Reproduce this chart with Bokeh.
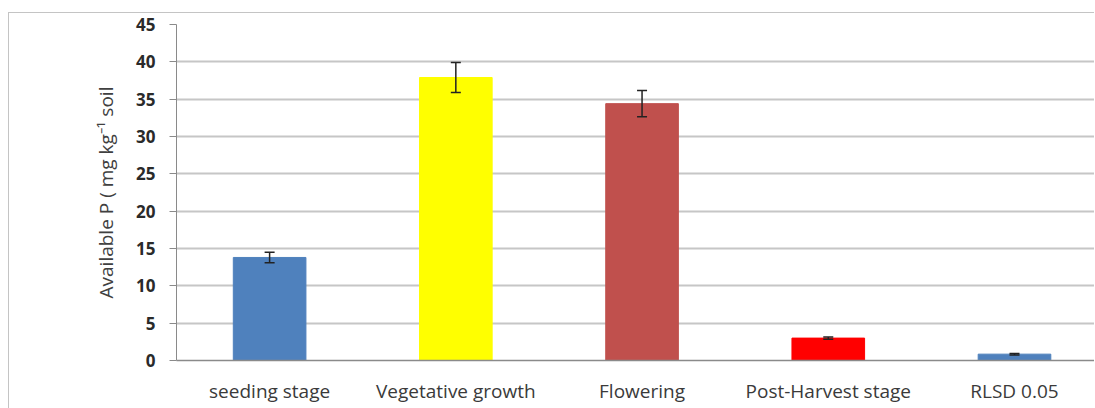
from bokeh.plotting import figure
from bokeh.models import ColumnDataSource, Whisker, FixedTicker, TeeHead, Range1d
from bokeh.embed import file_html
from bokeh.resources import INLINE

categories = ["seeding stage", "Vegetative growth", "Flowering", "Post-Harvest stage", "RLSD 0.05"]
values = [13.8, 37.9, 34.4, 3.0, 0.85]
errors = [0.7, 2.0, 1.75, 0.15, 0.1]
colors = ["#4f81bd", "#ffff00", "#c0504d", "#ff0000", "#4f81bd"]
y_ticks = [0, 5, 10, 15, 20, 25, 30, 35, 40, 45]

xs = list(range(len(categories)))
src = ColumnDataSource(dict(
    x=xs, top=values, color=colors,
    upper=[v + e for v, e in zip(values, errors)],
    lower=[v - e for v, e in zip(values, errors)],
))

p = figure(width=1086, height=396, output_backend="svg", toolbar_location=None,
           x_range=Range1d(-0.5, 4.435), y_range=Range1d(0, 45),
           min_border_left=167, min_border_top=11, min_border_bottom=49, min_border_right=0,
           styles={"border-left": "1px solid #c4c4c4", "border-top": "1px solid #c4c4c4",
                   "margin-top": "12px", "margin-left": "8px"})
p.outline_line_color = None
p.background_fill_color = "white"

p.vbar(x="x", top="top", width=0.39, bottom=0, color="color", source=src)
w = Whisker(base="x", upper="upper", lower="lower", source=src,
            line_color="#222222", line_width=1.5, level="overlay")
w.upper_head = TeeHead(size=10, line_color="#222222", line_width=1.5)
w.lower_head = TeeHead(size=10, line_color="#222222", line_width=1.5)
p.add_layout(w)

p.xgrid.grid_line_color = None
p.ygrid.grid_line_color = "#c6c6c6"
p.ygrid.grid_line_width = 2

p.yaxis.ticker = FixedTicker(ticks=y_ticks)
p.yaxis.minor_tick_line_color = None
p.yaxis.major_tick_out = 7
p.yaxis.major_tick_in = 0
p.yaxis.major_tick_line_color = "#8a8a8a"
p.yaxis.axis_line_color = "#8a8a8a"
p.yaxis.major_label_text_font = "Open Sans"
p.yaxis.major_label_text_font_style = "bold"
p.yaxis.major_label_text_font_size = "17px"
p.yaxis.major_label_text_color = "#2a2a2a"
p.yaxis.major_label_standoff = 14
p.yaxis.axis_label = "Available P ( mg kg\u207b\u00b9 soil"
p.yaxis.axis_label_text_font = "Open Sans"
p.yaxis.axis_label_text_font_style = "normal"
p.yaxis.axis_label_text_font_size = "19px"
p.yaxis.axis_label_text_color = "#404040"
p.yaxis.axis_label_standoff = 14

p.xaxis.ticker = FixedTicker(ticks=xs)
p.xaxis.major_label_overrides = {i: c for i, c in zip(xs, categories)}
p.xaxis.minor_tick_line_color = None
p.xaxis.major_tick_line_color = None
p.xaxis.axis_line_color = "#8a8a8a"
p.xaxis.axis_line_width = 1.5
p.xaxis.major_label_text_font = "Open Sans"
p.xaxis.major_label_text_font_size = "19px"
p.xaxis.major_label_text_color = "#3a3a3a"
p.xaxis.major_label_standoff = 11

open("out.html", "w").write(file_html(p, INLINE))
